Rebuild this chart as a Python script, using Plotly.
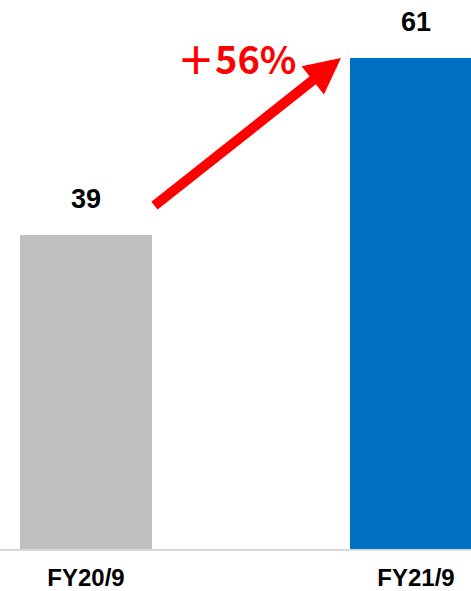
import plotly.graph_objects as go

categories = ["FY20/9", "FY21/9"]
values = [39, 61]
bar_colors = ["#bfbfbf", "#0070c0"]
growth_label = "＋56%"

fig = go.Figure()
fig.add_trace(go.Bar(
    x=[0, 1], y=values, width=0.4,
    marker=dict(color=bar_colors, line=dict(width=0)),
    hoverinfo="skip",
))

# value labels
for i, v in enumerate(values):
    fig.add_annotation(x=i, y=v, text=f"<b>{v}</b>", showarrow=False,
                       yanchor="middle", yshift=36,
                       font=dict(family="Liberation Sans", size=27, color="#000000"))

# growth arrow
fig.add_annotation(x=0.7727, y=values[1], ax=0.203, ay=values[0] + 3.5,
                   xref="x", yref="y", axref="x", ayref="y",
                   text="", showarrow=True, arrowhead=2, arrowsize=0.72,
                   arrowwidth=10, arrowcolor="#ff0000", standoff=0, startstandoff=0)
fig.add_annotation(x=0.455, y=61.0, text="<b>" + growth_label + "</b>", showarrow=False,
                   xanchor="center", yanchor="middle",
                   font=dict(family="Noto Sans CJK JP", size=38, color="#ff0000"))

fig.update_layout(
    width=471, height=591,
    margin=dict(l=0, r=0, t=0, b=42),
    paper_bgcolor="white", plot_bgcolor="white",
    showlegend=False,
    xaxis=dict(range=[-0.2606, 1.1667], tickvals=[0, 1], ticktext=[f"<b>{c}</b>" for c in categories],
               showline=True, linecolor="#d9d9d9", linewidth=2, showgrid=False, zeroline=False,
               ticks="", ticklabelstandoff=6, automargin=False,
               tickfont=dict(family="Liberation Sans", size=24, color="#000000")),
    yaxis=dict(range=[0, 68.2], visible=False, showgrid=False, zeroline=False, automargin=False),
)

fig.write_html("out.html", config={"displayModeBar": False},
               post_script="document.body.style.margin='0';document.body.style.overflow='hidden';")
